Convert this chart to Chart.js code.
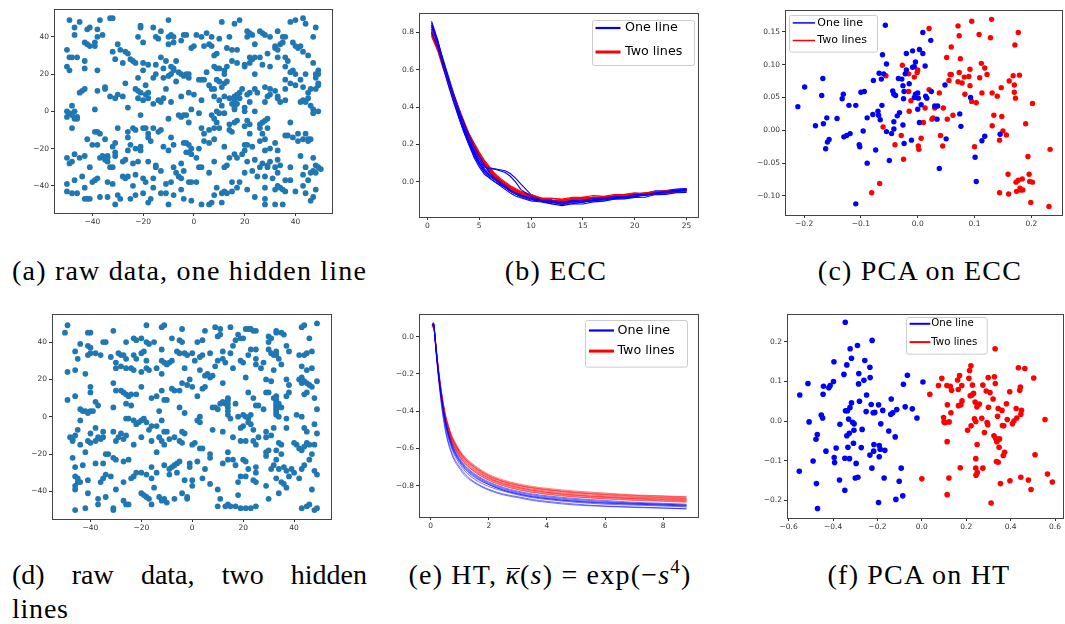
<!DOCTYPE html>
<html>
<head>
<meta charset="utf-8">
<script src="https://cdn.jsdelivr.net/npm/chart.js@4.4.1/dist/chart.umd.min.js"></script>
<style>
  body { margin: 0; background: #fff; width: 1065px; height: 624px; overflow: hidden; position: relative; }
  .panel { position: absolute; }
  .cap { position: absolute; font-family: "Liberation Serif", "Times New Roman", "DejaVu Serif", "Noto Serif", serif;
         font-size: 28px; line-height: 28px; color: #000; white-space: nowrap; }
  .kb { position: relative; display: inline-block; }
  .kb::before { content: ""; position: absolute; left: 2px; right: 0; top: 7px; border-top: 1.5px solid #000; }
  .cap sup { font-size: 19px; line-height: 0; vertical-align: 11px; }
</style>
</head>
<body>
<div class="panel"><canvas id="chart_a"></canvas></div>
<div class="panel"><canvas id="chart_b"></canvas></div>
<div class="panel"><canvas id="chart_c"></canvas></div>
<div class="panel"><canvas id="chart_d"></canvas></div>
<div class="panel"><canvas id="chart_e"></canvas></div>
<div class="panel"><canvas id="chart_f"></canvas></div>

<div class="cap" data-l="12" data-w="355" style="top:257px;"><span>(a) raw data, one hidden line</span></div>
<div class="cap" data-c="556" data-w="107" style="top:257px;"><span>(b) ECC</span></div>
<div class="cap" data-c="920" data-w="218" style="top:257px;"><span>(c) PCA on ECC</span></div>
<div class="cap" data-l="12" data-w="355" data-mode="word" style="top:561px;"><span>(d) raw data, two hidden</span></div>
<div class="cap" data-l="12" data-w="56" style="top:595px;"><span>lines</span></div>
<div class="cap" data-c="550" data-w="318" style="top:561px;"><span>(e) HT, <i class="kb">κ</i>(<i>s</i>) = exp(−<i>s</i><sup>4</sup>)</span></div>
<div class="cap" data-c="919" data-w="197" style="top:561px;"><span>(f) PCA on HT</span></div>

<script>
// ---- data ----
// (a) raw data, one hidden line
var rawOne = [
  [-49,49],[-47,45],[-47,41],[-45,48],[-42,44],[-41,45],[-38,44],[-38,40],[-36,41],[-37,49],[-33,50],[-32,50],
  [-21,45],[-21,46],[-22,40],[-16,45],[-14,39],[-15,40],[-13,43],[-10,49],[-10,40],[-8,40],[-9,41],[-4,41],
  [-3,41],[1,41],[3,40],[5,42],[7,40],[10,39],[11,48],[14,40],[16,47],[18,49],[21,43],[22,42],[21,40],[23,41],
  [26,43],[27,42],[28,41],[30,40],[33,43],[35,40],[38,48],[40,49],[43,50],[44,47],[47,40],[48,45],
  [-50,33],[-49,29],[-48,29],[-46,29],[-43,37],[-42,36],[-41,35],[-39,37],[-39,35],[-32,32],[-30,36],[-29,33],
  [-27,32],[-26,31],[-20,37],[-13,29],[-10,36],[-8,37],[-5,38],[-1,34],[0,35],[4,35],[6,36],[7,35],[8,30],
  [9,31],[13,34],[15,33],[17,33],[22,29],[24,36],[29,31],[32,34],[32,35],[33,33],[34,36],[35,37],[36,40],
  [39,37],[40,35],[41,34],[42,35],[43,32],[45,30],
  [-50,24],[-49,22],[-43,27],[-43,23],[-38,22],[-31,28],[-28,26],[-25,28],[-24,27],[-23,26],[-20,26],[-20,22],
  [-18,25],[-15,25],[-12,23],[-11,27],[-9,24],[-9,20],[-8,23],[-7,27],[-6,21],[-5,20],[-4,19],[-3,20],[-2,18],
  [-2,20],[3,17],[4,17],[5,21],[8,24],[9,23],[10,23],[12,22],[12,20],[13,24],[15,27],[17,26],[20,25],[20,24],
  [22,26],[23,28],[24,29],[26,29],[27,25],[30,24],[33,29],[36,29],[36,24],[37,27],[38,21],[39,22],[42,17],
  [44,20],[47,26],[48,20],[49,20],[49,22],[48,18],[24,20],[-8,22],[-12,18],
  [-45,10],[-44,11],[-43,12],[-38,11],[-35,13],[-35,12],[-27,15],[-22,18],[-23,12],[-22,11],[-21,10],[-19,14],
  [-18,10],[-16,18],[-15,20],[-11,12],[-7,16],[-10,19],[-2,10],[0,9],[2,17],[6,14],[7,12],[8,12],[9,17],
  [10,16],[11,13],[12,15],[13,16],[18,10],[19,12],[21,9],[22,10],[24,12],[25,10],[28,13],[30,12],[32,11],
  [33,8],[36,17],[36,12],[38,15],[40,14],[40,20],[43,13],[45,10],[46,12],[48,12],[49,14],[49,15],
  [-50,0],[-49,-1],[-48,-2],[-48,3],[-47,0],[-46,-3],[-47,-4],[-46,-4],[-39,1],[-33,8],[-31,7],[-30,9],
  [-28,8],[-26,2],[-22,7],[-20,6],[-19,9],[-18,7],[-16,4],[-14,6],[-13,5],[-12,7],[-9,5],[-5,8],[-1,1],
  [3,6],[8,8],[9,0],[10,6],[11,3],[12,8],[14,7],[15,4],[16,8],[16,7],[16,6],[16,5],[16,3],[16,2],[16,1],
  [17,4],[17,9],[18,7],[20,0],[20,2],[22,5],[24,0],[28,5],[29,8],[30,9],[33,7],[34,5],[36,6],[42,5],[43,6],
  [44,5],[45,7],[46,3],[47,1],[47,-1],[49,0],
  [-50,-3],[-48,-9],[-21,-2],[-10,-4],[-5,-3],[-4,-2],[-3,-2],[-2,-6],[2,-1],[3,-9],[4,-12],[6,-10],[7,-2],
  [8,-4],[8,-9],[9,-6],[10,-9],[10,-1],[12,-1],[14,-7],[16,-6],[17,-5],[20,-8],[21,-5],[22,-7],[22,-12],
  [26,-7],[26,-9],[27,-6],[28,-5],[29,-4],[27,-12],[29,-9],[38,-6],[41,-12],
  [-42,-15],[-40,-18],[-39,-11],[-38,-18],[-38,-11],[-37,-12],[-35,-15],[-34,-24],[-32,-19],[-31,-17],
  [-30,-9],[-26,-11],[-26,-14],[-25,-18],[-24,-9],[-23,-10],[-20,-9],[-19,-9],[-18,-12],[-18,-14],[-17,-16],
  [-16,-9],[-14,-11],[-13,-10],[-12,-19],[-9,-14],[-8,-18],[-6,-2],[-4,-17],[-3,-17],[-2,-18],[-1,-20],
  [2,-20],[4,-16],[6,-17],[8,-15],[12,-19],[14,-10],[15,-11],[17,-25],[20,-18],[21,-18],[23,-19],[26,-16],
  [28,-15],[30,-20],[32,-17],[33,-21],[36,-13],[37,-13],[39,-14],[41,-16],[43,-15],[45,-15],[44,-12],
  [45,-16],[46,-15],
  [-50,-25],[-48,-27],[-49,-28],[-47,-23],[-45,-25],[-43,-24],[-41,-30],[-37,-25],[-36,-24],[-35,-26],
  [-34,-25],[-34,-27],[-33,-30],[-32,-30],[-31,-24],[-31,-22],[-28,-27],[-27,-26],[-26,-21],[-24,-28],
  [-23,-20],[-22,-27],[-21,-19],[-21,-21],[-18,-27],[-15,-29],[-15,-30],[-10,-21],[-8,-30],[-5,-28],
  [-4,-32],[-3,-22],[-2,-22],[-1,-23],[1,-25],[2,-30],[8,-27],[13,-29],[14,-25],[16,-23],[19,-23],[20,-21],
  [21,-27],[24,-26],[26,-30],[27,-28],[28,-21],[29,-29],[30,-27],[33,-26],[34,-29],[38,-30],[42,-24],
  [44,-30],[47,-25],[48,-29],[49,-30],[50,-31],[47,-32],[46,-33],
  [-50,-39],[-47,-37],[-46,-44],[-44,-35],[-40,-38],[-39,-37],[-38,-36],[-34,-38],[-32,-39],[-28,-35],
  [-27,-36],[-26,-35],[-24,-40],[-23,-34],[-20,-36],[-19,-38],[-16,-36],[-13,-32],[-11,-39],[-9,-38],
  [-7,-33],[-6,-35],[-5,-36],[-2,-38],[-1,-38],[1,-38],[3,-30],[6,-33],[12,-30],[15,-38],[18,-38],[20,-33],
  [23,-32],[25,-35],[28,-35],[29,-30],[32,-30],[33,-33],[31,-36],[36,-37],[38,-37],[43,-34],[45,-37],[48,-33],
  [-50,-43],[-48,-44],[-43,-41],[-43,-47],[-42,-47],[-41,-47],[-37,-46],[-34,-46],[-31,-50],[-30,-45],
  [-29,-47],[-25,-47],[-23,-45],[-20,-44],[-18,-49],[-17,-47],[-16,-41],[-13,-44],[-11,-44],[-10,-50],
  [-8,-45],[-5,-42],[-4,-47],[-1,-48],[3,-50],[6,-50],[7,-49],[8,-45],[9,-41],[11,-49],[11,-44],[12,-43],
  [13,-44],[15,-43],[17,-41],[21,-42],[24,-46],[28,-47],[28,-50],[28,-41],[32,-50],[32,-42],[33,-40],
  [34,-41],[35,-42],[35,-50],[36,-43],[40,-43],[43,-40],[44,-44],[46,-48],[47,-46],[48,-42]
];

// (d) raw data, two hidden lines
var rawTwo = [
  [-50,45],[-49,49],[-44,39],[-41,45],[-40,45],[-41,38],[-40,37],[-35,40],[-31,46],[-26,40],[-23,42],[-22,41],
  [-20,42],[-18,49],[-18,40],[-17,39],[-15,40],[-12,48],[-11,49],[-8,42],[-5,41],[-4,40],[-4,47],[2,40],
  [4,41],[5,46],[9,48],[10,43],[11,44],[11,47],[15,48],[17,41],[18,44],[19,42],[20,42],[21,47],[22,47],
  [23,47],[24,46],[25,46],[30,43],[31,42],[33,46],[33,45],[35,45],[36,44],[43,48],[44,49],[46,42],[49,50],
  [-46,35],[-45,31],[-41,33],[-40,34],[-38,34],[-36,33],[-34,40],[-32,32],[-30,29],[-29,34],[-28,33],[-27,33],
  [-26,31],[-23,33],[-22,31],[-20,34],[-19,35],[-18,30],[-12,36],[-12,30],[-11,29],[-9,29],[-8,30],[-6,35],
  [-5,34],[-3,34],[-2,33],[0,34],[1,30],[3,32],[4,33],[7,34],[10,30],[12,35],[12,31],[15,34],[16,38],[19,30],
  [22,33],[23,36],[25,31],[25,36],[28,29],[30,36],[30,40],[31,34],[32,33],[33,35],[33,33],[34,31],[37,38],
  [38,35],[42,33],[43,27],[44,33],[45,34],[47,35],
  [-49,24],[-46,25],[-42,23],[-30,26],[-28,27],[-26,26],[-24,26],[-23,25],[-20,24],[-18,26],[-17,25],[-14,26],
  [-12,23],[-10,28],[-3,26],[3,25],[5,22],[6,23],[7,21],[8,22],[9,27],[13,29],[16,26],[20,29],[21,21],[25,28],
  [27,26],[29,20],[31,19],[32,25],[35,28],[37,20],[38,17],[42,20],[43,21],[43,18],[44,19],[45,18],[46,17],
  [47,16],[45,25],[47,26],[49,19],
  [-40,13],[-40,16],[-31,18],[-30,14],[-28,14],[-27,13],[-26,12],[-25,11],[-24,12],[-22,12],[-20,16],[-16,10],
  [-14,11],[-12,14],[-11,9],[-10,9],[-8,15],[-7,14],[-5,14],[-4,18],[-2,17],[-1,20],[0,16],[2,11],[4,15],
  [5,16],[12,18],[14,10],[22,13],[24,10],[29,13],[30,13],[32,10],[33,11],[37,11],[38,13],[44,12],[45,13],[48,10],
  [-49,9],[-46,11],[-44,4],[-43,3],[-42,3],[-41,2],[-40,3],[-39,3],[-38,8],[-37,6],[-31,5],[-26,7],[-24,6],
  [-13,3],[-5,5],[-3,2],[3,0],[8,5],[9,5],[10,4],[11,7],[12,8],[13,7],[14,9],[14,7],[14,5],[14,3],[14,1],
  [15,-1],[17,7],[18,0],[20,1],[21,0],[22,-1],[23,1],[25,6],[26,6],[28,4],[33,9],[33,8],[33,7],[33,6],[33,5],
  [33,4],[33,3],[33,2],[33,1],[34,0],[34,7],[35,5],[37,-1],[41,1],[43,0],[49,4],
  [-45,-7],[-46,-10],[-48,-11],[-47,-12],[-44,-2],[-38,-6],[-35,-8],[-31,-8],[-29,-11],[-26,-1],[-25,-1],
  [-23,-2],[-22,-4],[-21,-3],[-20,-2],[-19,-1],[-18,-3],[-16,-5],[-14,-5],[-12,-2],[-11,-8],[-10,-8],[-4,-8],
  [-3,-9],[2,-2],[3,-3],[8,-7],[19,-6],[20,-5],[22,-3],[23,-4],[24,-7],[29,-8],[32,-6],[37,-6],[44,-6],
  [45,-8],[48,-4],[49,-9],
  [-47,-13],[-44,-15],[-42,-19],[-41,-13],[-40,-9],[-40,-14],[-38,-13],[-37,-11],[-36,-12],[-35,-11],[-34,-20],
  [-30,-13],[-28,-9],[-27,-12],[-26,-10],[-23,-15],[-20,-11],[-17,-7],[-16,-13],[-14,-19],[-13,-11],[-12,-13],
  [-11,-15],[-9,-12],[-7,-11],[-5,-13],[-4,-14],[0,-15],[1,-14],[3,-17],[4,-17],[7,-20],[12,-8],[14,-19],
  [16,-11],[19,-13],[21,-13],[24,-13],[25,-15],[26,-11],[29,-11],[30,-18],[31,-10],[33,-18],[34,-14],[35,-15],
  [35,-20],[40,-14],[41,-15],[42,-17],[43,-18],[44,-16],[45,-14],[46,-15],[47,-20],[48,-15],
  [-47,-22],[-46,-27],[-46,-32],[-45,-33],[-43,-26],[-38,-25],[-35,-25],[-33,-20],[-31,-22],[-30,-23],[-27,-24],
  [-25,-23],[-22,-30],[-16,-27],[-14,-30],[-11,-26],[-9,-28],[-8,-27],[-7,-26],[-6,-25],[-5,-24],[-1,-25],
  [-1,-27],[2,-24],[5,-28],[7,-22],[12,-25],[14,-23],[16,-23],[17,-26],[20,-23],[21,-24],[22,-28],[25,-27],
  [25,-30],[29,-21],[29,-19],[31,-28],[32,-26],[33,-23],[34,-28],[36,-27],[37,-29],[39,-28],[40,-30],[43,-28],
  [44,-26],[46,-23],[48,-29],[49,-31],
  [-46,-37],[-46,-39],[-45,-35],[-44,-35],[-41,-34],[-36,-35],[-35,-33],[-34,-31],[-32,-32],[-30,-39],[-27,-35],
  [-24,-33],[-23,-32],[-20,-30],[-18,-31],[-16,-33],[-15,-38],[-9,-31],[-6,-30],[-3,-34],[0,-37],[0,-34],
  [4,-33],[7,-36],[10,-39],[18,-35],[19,-32],[21,-32],[24,-34],[25,-35],[29,-37],[33,-33],[35,-35],[36,-36],
  [37,-38],[38,-32],[42,-33],[47,-39],
  [-46,-50],[-42,-49],[-41,-41],[-37,-44],[-37,-47],[-34,-43],[-31,-50],[-31,-49],[-27,-45],[-26,-47],[-25,-47],
  [-20,-41],[-19,-42],[-18,-43],[-17,-44],[-16,-47],[-13,-43],[-12,-45],[-11,-44],[-10,-46],[-7,-44],[-4,-41],
  [-2,-43],[-2,-44],[10,-48],[11,-44],[13,-48],[14,-47],[15,-48],[17,-48],[18,-42],[19,-49],[21,-49],[23,-49],
  [25,-48],[30,-44],[34,-41],[43,-49],[45,-48],[46,-47],[48,-50],[49,-49]
];

// (b) ECC curves
var eccS = [0.4, 1, 1.5, 2, 2.5, 3, 3.5, 4, 4.5, 5, 5.5, 6, 6.5, 7, 7.5, 8, 8.5, 9,
            10, 11, 12, 13, 14, 15, 16, 17, 18, 19, 20, 21, 22, 23, 24, 25];
var eccOneLine = [
  [0.86,0.76,0.65,0.55,0.46,0.37,0.29,0.22,0.16,0.11,0.07,0.04,0.02,0.0,-0.02,-0.045,-0.06,-0.072,-0.088,-0.104,-0.108,-0.118,-0.106,-0.109,-0.097,-0.098,-0.086,-0.088,-0.074,-0.073,-0.062,-0.058,-0.048,-0.042],
  [0.84,0.74,0.64,0.55,0.46,0.38,0.30,0.23,0.17,0.12,0.08,0.07,0.068,0.06,0.05,0.03,0.0,-0.04,-0.078,-0.097,-0.098,-0.112,-0.099,-0.103,-0.088,-0.087,-0.079,-0.083,-0.068,-0.067,-0.058,-0.052,-0.044,-0.041],
  [0.8,0.72,0.62,0.52,0.43,0.35,0.27,0.2,0.14,0.09,0.05,0.02,0.0,-0.02,-0.04,-0.06,-0.075,-0.085,-0.102,-0.108,-0.118,-0.127,-0.117,-0.118,-0.107,-0.103,-0.093,-0.092,-0.083,-0.082,-0.068,-0.067,-0.058,-0.056],
  [0.83,0.75,0.65,0.56,0.47,0.39,0.32,0.25,0.19,0.14,0.09,0.05,0.02,-0.005,-0.025,-0.045,-0.06,-0.07,-0.091,-0.098,-0.107,-0.109,-0.107,-0.098,-0.096,-0.088,-0.087,-0.078,-0.077,-0.068,-0.062,-0.053,-0.052,-0.044],
  [0.85,0.75,0.66,0.57,0.48,0.40,0.32,0.25,0.19,0.14,0.1,0.075,0.07,0.065,0.06,0.045,0.02,-0.01,-0.068,-0.092,-0.098,-0.102,-0.093,-0.092,-0.088,-0.087,-0.078,-0.072,-0.063,-0.062,-0.048,-0.047,-0.038,-0.036],
  [0.81,0.72,0.63,0.54,0.45,0.37,0.29,0.22,0.16,0.1,0.06,0.03,0.01,-0.01,-0.03,-0.05,-0.065,-0.08,-0.097,-0.103,-0.117,-0.118,-0.117,-0.108,-0.102,-0.093,-0.092,-0.083,-0.082,-0.068,-0.067,-0.058,-0.052,-0.043],
  [0.84,0.75,0.64,0.54,0.45,0.36,0.28,0.21,0.15,0.1,0.06,0.035,0.015,-0.005,-0.025,-0.04,-0.055,-0.07,-0.083,-0.102,-0.108,-0.122,-0.108,-0.107,-0.098,-0.092,-0.083,-0.082,-0.068,-0.067,-0.053,-0.052,-0.043,-0.037],
  [0.82,0.73,0.63,0.53,0.44,0.35,0.27,0.2,0.13,0.08,0.04,0.02,0.0,-0.015,-0.03,-0.05,-0.065,-0.075,-0.092,-0.098,-0.112,-0.108,-0.102,-0.098,-0.097,-0.088,-0.082,-0.073,-0.072,-0.063,-0.062,-0.048,-0.047,-0.038]
];
var eccTwoLines = [
  [0.8,0.72,0.63,0.54,0.46,0.39,0.32,0.26,0.2,0.15,0.11,0.07,0.04,0.015,-0.005,-0.025,-0.04,-0.055,-0.073,-0.087,-0.088,-0.097,-0.088,-0.087,-0.083,-0.082,-0.073,-0.072,-0.063,-0.062,-0.053,-0.052,-0.043,-0.042],
  [0.79,0.71,0.62,0.53,0.45,0.38,0.31,0.25,0.19,0.14,0.1,0.065,0.035,0.01,-0.01,-0.03,-0.045,-0.06,-0.082,-0.088,-0.102,-0.098,-0.097,-0.088,-0.092,-0.083,-0.082,-0.073,-0.072,-0.063,-0.062,-0.053,-0.052,-0.043],
  [0.81,0.72,0.63,0.55,0.47,0.39,0.32,0.25,0.19,0.14,0.095,0.06,0.03,0.005,-0.015,-0.035,-0.05,-0.065,-0.083,-0.097,-0.098,-0.107,-0.098,-0.097,-0.088,-0.087,-0.078,-0.082,-0.073,-0.072,-0.063,-0.062,-0.053,-0.052],
  [0.78,0.7,0.61,0.53,0.45,0.37,0.3,0.24,0.18,0.13,0.09,0.055,0.025,0.0,-0.02,-0.04,-0.055,-0.065,-0.082,-0.088,-0.097,-0.098,-0.097,-0.088,-0.087,-0.078,-0.077,-0.068,-0.067,-0.058,-0.057,-0.053,-0.052,-0.043],
  [0.8,0.73,0.64,0.55,0.47,0.4,0.33,0.26,0.21,0.16,0.115,0.08,0.045,0.02,0.0,-0.02,-0.035,-0.05,-0.068,-0.087,-0.088,-0.092,-0.083,-0.082,-0.073,-0.077,-0.068,-0.067,-0.058,-0.062,-0.053,-0.052,-0.043,-0.042],
  [0.79,0.71,0.62,0.54,0.46,0.38,0.31,0.24,0.18,0.13,0.085,0.05,0.02,-0.005,-0.025,-0.045,-0.06,-0.07,-0.092,-0.098,-0.107,-0.103,-0.102,-0.093,-0.092,-0.083,-0.087,-0.078,-0.077,-0.068,-0.067,-0.058,-0.057,-0.048],
  [0.8,0.72,0.63,0.54,0.46,0.38,0.31,0.25,0.19,0.14,0.1,0.06,0.03,0.01,-0.01,-0.03,-0.045,-0.055,-0.077,-0.088,-0.097,-0.098,-0.092,-0.083,-0.082,-0.078,-0.077,-0.068,-0.067,-0.058,-0.052,-0.048,-0.047,-0.038],
  [0.82,0.73,0.64,0.55,0.47,0.39,0.32,0.25,0.2,0.15,0.1,0.07,0.04,0.01,-0.01,-0.03,-0.05,-0.06,-0.078,-0.092,-0.098,-0.102,-0.093,-0.092,-0.083,-0.087,-0.078,-0.077,-0.068,-0.067,-0.058,-0.057,-0.048,-0.047]
];

// (c) PCA on ECC
var pcaEccOne = [
  [-0.211,0.036],[-0.199,0.066],[-0.167,0.079],[-0.169,0.053],[-0.166,0.010],[-0.180,0.007],[-0.160,0.019],
  [-0.162,-0.028],[-0.159,-0.018],[-0.156,-0.014],[-0.142,0.018],[-0.133,0.048],[-0.131,0.055],[-0.130,-0.010],
  [-0.125,-0.008],[-0.119,-0.005],[-0.121,0.038],[-0.109,0.038],[-0.109,-0.112],[-0.103,-0.022],[-0.102,-0.025],
  [-0.100,0.058],[-0.094,0.059],[-0.096,-0.001],[-0.089,0.019],[-0.089,-0.050],[-0.079,0.024],[-0.078,0.076],
  [-0.074,-0.030],[-0.070,0.029],[-0.069,0.023],[-0.066,0.016],[-0.068,0.087],[-0.064,0.078],[-0.062,0.115],
  [-0.063,0.038],[-0.060,0.086],[-0.055,0.101],[-0.057,0.160],[-0.055,-0.002],[-0.050,-0.046],[-0.046,-0.005],
  [-0.044,0.060],[-0.042,0.055],[-0.042,0.013],[-0.042,0.002],[-0.039,0.053],[-0.036,0.022],[-0.034,0.079],
  [-0.032,0.027],[-0.028,0.078],[-0.026,0.068],[-0.026,0.008],[-0.025,0.048],[-0.024,-0.020],[-0.024,0.059],
  [-0.022,0.086],[-0.020,0.092],[-0.020,0.117],[-0.015,0.071],[-0.011,-0.015],[-0.009,0.096],[-0.009,0.121],
  [-0.006,0.097],[-0.004,0.104],[-0.006,0.050],[-0.004,0.055],[0.000,0.057],[0.001,0.049],[0.000,0.032],
  [0.003,0.123],[0.003,0.012],[0.006,0.039],[0.009,0.117],[0.009,0.149],[0.013,0.098],[0.014,0.052],
  [0.016,0.049],[0.023,0.137],[0.024,0.059],[0.030,0.037],[0.035,0.037],[0.034,0.017],[0.038,-0.058],
  [0.048,0.069],[0.050,-0.013],[0.074,0.025],[0.076,0.006],[0.093,0.050],[0.101,-0.041],[0.103,-0.078],
  [0.113,-0.016],[0.118,-0.009],[0.145,-0.006]
];
var pcaEccTwo = [
  [-0.056,0.083],[-0.061,0.005],[-0.067,-0.081],[-0.081,-0.095],[-0.040,-0.022],[-0.027,0.099],[-0.029,-0.008],
  [-0.025,-0.044],[-0.016,0.086],[-0.016,0.059],[-0.015,0.029],[-0.012,0.045],[-0.006,0.081],[-0.001,0.088],
  [0.000,0.092],[0.001,-0.024],[0.002,-0.029],[0.006,-0.012],[0.010,0.012],[0.013,0.034],[0.020,0.155],
  [0.020,0.062],[0.025,0.017],[0.027,0.019],[0.030,0.034],[0.038,0.057],[0.040,-0.008],[0.044,-0.024],
  [0.045,0.034],[0.051,0.111],[0.052,0.017],[0.055,0.076],[0.057,0.085],[0.059,0.127],[0.059,0.085],
  [0.062,0.023],[0.071,0.159],[0.071,0.074],[0.073,0.144],[0.073,0.088],[0.075,0.109],[0.078,0.072],
  [0.083,0.055],[0.082,0.081],[0.090,0.082],[0.092,0.093],[0.092,0.068],[0.095,0.166],[0.095,0.044],
  [0.100,-0.025],[0.103,0.042],[0.109,0.080],[0.108,0.146],[0.112,0.102],[0.113,0.057],[0.118,0.095],
  [0.122,0.085],[0.128,0.141],[0.130,0.169],[0.131,0.057],[0.131,0.007],[0.134,0.023],[0.140,0.052],
  [0.144,-0.095],[0.144,-0.015],[0.147,0.065],[0.148,0.021],[0.150,-0.001],[0.156,-0.007],[0.159,-0.067],
  [0.160,-0.097],[0.161,0.075],[0.168,0.083],[0.170,0.069],[0.170,0.058],[0.171,0.130],[0.172,0.049],
  [0.173,-0.079],[0.174,-0.093],[0.177,0.149],[0.179,0.084],[0.177,-0.076],[0.180,-0.088],[0.181,-0.091],
  [0.184,-0.074],[0.185,-0.091],[0.190,0.010],[0.194,-0.040],[0.196,-0.067],[0.197,-0.078],[0.199,-0.110],
  [0.202,0.041],[0.202,-0.079],[0.233,-0.029],[0.231,-0.116]
];

// (e) HT curves, kappa(s) = exp(-s^4)
var htS = [0.05, 0.1, 0.15, 0.2, 0.3, 0.4, 0.5, 0.6, 0.7, 0.8, 1.0, 1.2, 1.5, 2, 2.5, 3, 3.5, 4, 5, 6, 7, 8, 8.8];
var htOneLine = [
  [0.06,0.07,0.0,-0.1,-0.26,-0.39,-0.49,-0.56,-0.61,-0.65,-0.70,-0.74,-0.78,-0.82,-0.845,-0.86,-0.875,-0.885,-0.9,-0.91,-0.915,-0.92,-0.925],
  [0.065,0.07,0.0,-0.09,-0.24,-0.36,-0.45,-0.52,-0.57,-0.61,-0.665,-0.705,-0.745,-0.79,-0.82,-0.84,-0.855,-0.865,-0.88,-0.89,-0.895,-0.9,-0.905],
  [0.06,0.065,-0.01,-0.1,-0.25,-0.37,-0.47,-0.54,-0.59,-0.63,-0.685,-0.725,-0.765,-0.805,-0.83,-0.85,-0.865,-0.875,-0.89,-0.9,-0.905,-0.91,-0.915],
  [0.07,0.075,0.01,-0.08,-0.23,-0.35,-0.44,-0.51,-0.56,-0.6,-0.655,-0.695,-0.735,-0.78,-0.81,-0.83,-0.845,-0.855,-0.87,-0.88,-0.89,-0.895,-0.9],
  [0.06,0.07,-0.005,-0.095,-0.245,-0.365,-0.46,-0.53,-0.58,-0.62,-0.675,-0.715,-0.755,-0.795,-0.825,-0.845,-0.86,-0.87,-0.885,-0.895,-0.9,-0.905,-0.91],
  [0.065,0.075,0.005,-0.085,-0.235,-0.355,-0.45,-0.515,-0.565,-0.605,-0.66,-0.7,-0.74,-0.785,-0.815,-0.835,-0.85,-0.86,-0.875,-0.885,-0.895,-0.9,-0.905],
  [0.06,0.065,-0.015,-0.11,-0.27,-0.4,-0.5,-0.57,-0.62,-0.66,-0.71,-0.75,-0.785,-0.825,-0.85,-0.865,-0.88,-0.89,-0.905,-0.912,-0.918,-0.922,-0.925],
  [0.065,0.07,0.0,-0.09,-0.24,-0.36,-0.45,-0.52,-0.575,-0.615,-0.67,-0.71,-0.75,-0.795,-0.825,-0.845,-0.86,-0.87,-0.885,-0.893,-0.9,-0.905,-0.91]
];
var htTwoLines = [
  [0.055,0.06,-0.005,-0.08,-0.22,-0.33,-0.42,-0.48,-0.53,-0.565,-0.62,-0.66,-0.70,-0.75,-0.78,-0.80,-0.815,-0.825,-0.84,-0.85,-0.86,-0.865,-0.87],
  [0.05,0.06,0.0,-0.075,-0.21,-0.32,-0.41,-0.47,-0.52,-0.555,-0.61,-0.65,-0.69,-0.74,-0.77,-0.79,-0.805,-0.815,-0.83,-0.84,-0.85,-0.855,-0.86],
  [0.06,0.065,0.0,-0.085,-0.225,-0.34,-0.43,-0.49,-0.54,-0.575,-0.63,-0.67,-0.71,-0.76,-0.79,-0.81,-0.825,-0.835,-0.85,-0.86,-0.868,-0.872,-0.876],
  [0.055,0.06,-0.005,-0.085,-0.23,-0.345,-0.435,-0.5,-0.55,-0.585,-0.64,-0.68,-0.72,-0.765,-0.795,-0.815,-0.83,-0.84,-0.855,-0.865,-0.872,-0.878,-0.882],
  [0.05,0.055,-0.01,-0.09,-0.235,-0.35,-0.44,-0.505,-0.555,-0.59,-0.645,-0.685,-0.725,-0.77,-0.8,-0.82,-0.835,-0.845,-0.86,-0.87,-0.877,-0.882,-0.886],
  [0.06,0.065,0.005,-0.075,-0.215,-0.325,-0.415,-0.475,-0.525,-0.56,-0.615,-0.655,-0.695,-0.745,-0.775,-0.795,-0.81,-0.82,-0.835,-0.845,-0.853,-0.858,-0.862],
  [0.055,0.06,0.0,-0.08,-0.22,-0.335,-0.425,-0.485,-0.535,-0.57,-0.625,-0.665,-0.705,-0.755,-0.785,-0.805,-0.82,-0.83,-0.845,-0.856,-0.864,-0.868,-0.872],
  [0.05,0.06,-0.005,-0.085,-0.225,-0.34,-0.43,-0.495,-0.545,-0.58,-0.635,-0.675,-0.715,-0.76,-0.79,-0.81,-0.825,-0.837,-0.852,-0.862,-0.87,-0.875,-0.88],
  [0.06,0.065,0.0,-0.08,-0.22,-0.33,-0.42,-0.48,-0.53,-0.565,-0.62,-0.66,-0.70,-0.748,-0.778,-0.798,-0.812,-0.822,-0.838,-0.848,-0.856,-0.862,-0.866],
  [0.055,0.06,-0.005,-0.09,-0.23,-0.345,-0.44,-0.5,-0.55,-0.59,-0.645,-0.685,-0.725,-0.772,-0.802,-0.822,-0.837,-0.848,-0.862,-0.872,-0.88,-0.885,-0.89]
];

// (f) PCA on HT
var pcaHtOne = [
  [-0.550,0.066],[-0.552,-0.127],[-0.513,0.095],[-0.508,-0.002],[-0.490,-0.101],[-0.477,-0.046],[-0.471,-0.034],
  [-0.475,-0.158],[-0.470,-0.221],[-0.453,0.015],[-0.447,0.008],[-0.445,0.068],[-0.443,0.088],[-0.432,-0.076],
  [-0.419,0.084],[-0.413,0.090],[-0.398,0.100],[-0.396,0.150],[-0.395,-0.092],[-0.393,-0.105],[-0.386,-0.068],
  [-0.371,-0.149],[-0.369,-0.008],[-0.351,0.118],[-0.347,-0.175],[-0.347,-0.094],[-0.345,0.250],[-0.344,0.026],
  [-0.338,0.142],[-0.338,-0.037],[-0.335,0.026],[-0.333,-0.066],[-0.330,0.005],[-0.327,-0.031],[-0.326,-0.095],
  [-0.324,0.034],[-0.323,0.183],[-0.317,0.159],[-0.317,0.046],[-0.312,-0.003],[-0.308,-0.056],[-0.306,-0.023],
  [-0.305,-0.007],[-0.300,-0.144],[-0.296,-0.107],[-0.290,0.191],[-0.288,-0.142],[-0.285,0.094],[-0.284,0.120],
  [-0.281,0.050],[-0.273,-0.067],[-0.269,-0.021],[-0.261,0.103],[-0.257,0.153],[-0.251,0.024],[-0.249,0.066],
  [-0.234,0.136],[-0.233,0.110],[-0.234,-0.086],[-0.228,0.042],[-0.224,0.204],[-0.225,-0.119],[-0.219,0.021],
  [-0.217,-0.076],[-0.216,-0.059],[-0.212,0.022],[-0.195,0.041],[-0.192,-0.062],[-0.192,-0.090],[-0.188,-0.071],
  [-0.195,-0.206],[-0.185,-0.007],[-0.176,0.027],[-0.170,-0.144],[-0.167,-0.074],[-0.149,-0.025],[-0.138,0.056],
  [-0.140,0.017],[-0.131,0.021],[-0.120,-0.040],[-0.117,-0.198],[-0.113,0.029],[-0.102,-0.152],[-0.093,-0.119],
  [-0.086,-0.189],[-0.083,0.093],[-0.075,0.036],[-0.065,0.116],[-0.043,0.031],[-0.022,0.008],[0.005,0.099]
];
var pcaHtTwo = [
  [0.000,-0.146],[0.036,0.068],[0.075,0.090],[0.090,0.108],[0.098,0.009],[0.100,-0.002],[0.105,-0.004],
  [0.113,0.090],[0.115,0.041],[0.114,-0.052],[0.114,-0.186],[0.122,-0.144],[0.123,-0.002],[0.128,0.088],
  [0.131,0.021],[0.134,0.078],[0.161,0.104],[0.164,0.080],[0.165,0.039],[0.170,0.115],[0.173,-0.118],
  [0.176,0.041],[0.181,0.051],[0.180,0.090],[0.206,-0.023],[0.212,0.108],[0.215,0.128],[0.218,0.064],
  [0.221,0.140],[0.222,-0.012],[0.225,0.066],[0.228,0.091],[0.233,0.070],[0.237,0.006],[0.240,0.048],
  [0.243,-0.001],[0.243,-0.095],[0.243,-0.119],[0.244,-0.137],[0.248,0.036],[0.249,-0.059],[0.250,-0.130],
  [0.259,0.043],[0.270,0.007],[0.275,0.091],[0.275,-0.119],[0.282,-0.029],[0.290,0.076],[0.294,-0.004],
  [0.297,-0.009],[0.299,0.110],[0.300,0.035],[0.307,0.072],[0.312,-0.207],[0.321,0.056],[0.325,-0.037],
  [0.327,0.112],[0.330,0.183],[0.331,0.095],[0.333,-0.044],[0.336,-0.102],[0.338,-0.052],[0.341,0.012],
  [0.344,0.032],[0.344,-0.104],[0.350,-0.045],[0.348,-0.066],[0.354,-0.158],[0.361,0.027],[0.363,-0.011],
  [0.367,-0.087],[0.369,-0.012],[0.373,-0.079],[0.381,0.044],[0.385,0.004],[0.396,0.074],[0.397,-0.151],
  [0.408,-0.007],[0.415,0.000],[0.425,0.032],[0.428,0.008],[0.435,0.135],[0.441,0.078],[0.444,0.086],
  [0.446,0.017],[0.449,0.027],[0.446,-0.142],[0.464,0.133],[0.480,-0.149],[0.492,-0.173],[0.504,0.109],
  [0.510,-0.085],[0.555,0.004],[0.566,-0.134],[0.588,-0.154]
];

// tick values
var ticksRaw = [-40, -20, 0, 20, 40];
var ticksEccX = [0, 5, 10, 15, 20, 25];
var ticksEccY = [0.0, 0.2, 0.4, 0.6, 0.8];
var ticksPcaEccX = [-0.2, -0.1, 0.0, 0.1, 0.2];
var ticksPcaEccY = [-0.10, -0.05, 0.00, 0.05, 0.10, 0.15];
var ticksHtX = [0, 2, 4, 6, 8];
var ticksHtY = [-0.8, -0.6, -0.4, -0.2, 0.0];
var ticksPcaHtX = [-0.6, -0.4, -0.2, 0.0, 0.2, 0.4, 0.6];
var ticksPcaHtY = [-0.2, -0.1, 0.0, 0.1, 0.2];

// ---- captions: adjust spacing a little so each caption lands where it sits in the figure ----
document.querySelectorAll(".cap").forEach(function (el) {
  var span = el.firstElementChild;
  var text = span.textContent;
  var w = span.getBoundingClientRect().width;
  var target = +el.dataset.w;
  if (el.dataset.mode === "word") {
    var gaps = text.split(" ").length - 1;
    span.style.wordSpacing = ((target - w) / gaps) + "px";
  } else {
    var ls = (target - w) / Math.max(text.length - 1, 1);
    span.style.letterSpacing = Math.max(-0.8, Math.min(1.2, ls)) + "px";
  }
  var w2 = span.getBoundingClientRect().width;
  var left = el.dataset.l !== undefined ? +el.dataset.l : +el.dataset.c - w2 / 2;
  el.style.left = left + "px";
});

// ---- drawing ----
var YW = 40, XH = 22, PT = 4, PR = 6;
var BLUE = "#0000ff", RED = "#ff0000", MPL = "#1f77b4";

function fmt(v, d) {
  return Number(v).toFixed(d).replace("-", "\u2212");
}

function axis(min, max, ticks, dec) {
  return {
    type: "linear",
    min: min,
    max: max,
    afterBuildTicks: function (s) { s.ticks = ticks.map(function (v) { return { value: v }; }); },
    afterFit: function (s) { if (s.isHorizontal()) s.height = XH; else s.width = YW; },
    grid: { display: true, drawOnChartArea: false, drawTicks: true, tickLength: 3, color: "#333", lineWidth: 1 },
    border: { display: false },
    ticks: {
      padding: 2, color: "#333", autoSkip: false, maxRotation: 0,
      font: { family: "DejaVu Sans", size: 7.5 },
      callback: function (v) { return fmt(v, dec); },
    },
  };
}

// box around the plot area, like the matplotlib spines
var frame = {
  id: "frame",
  afterDraw: function (chart) {
    var a = chart.chartArea, c = chart.ctx;
    c.save();
    c.strokeStyle = "#444";
    c.lineWidth = 1;
    c.strokeRect(Math.round(a.left) + 0.5, Math.round(a.top) + 0.5,
                 Math.round(a.right - a.left) - 1, Math.round(a.bottom - a.top) - 1);
    c.restore();
  },
};

// legend drawn inside the plot area
var boxLegend = {
  id: "boxLegend",
  afterDraw: function (chart, args, o) {
    if (!o || !o.items) return;
    var a = chart.chartArea, c = chart.ctx;
    var x = a.left + o.x, y = a.top + o.y;
    c.save();
    c.fillStyle = "rgba(255,255,255,0.85)";
    c.strokeStyle = "#cccccc";
    c.lineWidth = 1;
    c.beginPath();
    c.roundRect(Math.round(x) + 0.5, Math.round(y) + 0.5, o.w, o.h, 2);
    c.fill();
    c.stroke();
    c.font = o.size + 'px "DejaVu Sans"';
    c.textBaseline = "middle";
    o.items.forEach(function (it, i) {
      var ly = y + o.rows[i];
      c.strokeStyle = it.color;
      c.lineWidth = it.lw;
      c.beginPath();
      c.moveTo(x + o.line[0], ly);
      c.lineTo(x + o.line[1], ly);
      c.stroke();
      c.fillStyle = "#000";
      c.fillText(it.text, x + o.tx, ly);
    });
    c.restore();
  },
};

function pts(pairs) {
  return pairs.map(function (p) { return { x: p[0], y: p[1] }; });
}

function curve(xs, ys, color, width, smooth) {
  return {
    data: xs.map(function (x, i) { return { x: x, y: ys[i] }; }),
    showLine: true, borderColor: color, borderWidth: width, pointRadius: 0,
    fill: false, cubicInterpolationMode: smooth ? "monotone" : "default", tension: 0,
  };
}

function dots(pairs, color, r) {
  return { data: pts(pairs), backgroundColor: color, borderWidth: 0, pointRadius: r, pointHoverRadius: r };
}

function makeChart(id, box, datasets, xAxis, yAxis, legend) {
  var cv = document.getElementById(id);
  cv.width = YW + (box[2] - box[0]) + PR;
  cv.height = PT + (box[3] - box[1]) + XH;
  cv.parentNode.style.left = (box[0] - YW) + "px";
  cv.parentNode.style.top = (box[1] - PT) + "px";
  return new Chart(cv.getContext("2d"), {
    type: "scatter",
    data: { datasets: datasets },
    options: {
      responsive: false,
      animation: false,
      devicePixelRatio: 1,
      layout: { padding: { left: 0, top: PT, right: PR, bottom: 0 } },
      scales: { x: xAxis, y: yAxis },
      plugins: { legend: { display: false }, tooltip: { enabled: false }, boxLegend: legend || {} },
    },
    plugins: [frame, boxLegend],
  });
}

var legendItems = function (lw1, lw2) {
  return [{ text: "One line", color: BLUE, lw: lw1 }, { text: "Two lines", color: RED, lw: lw2 }];
};

// (a)
makeChart("chart_a", [54, 6, 333, 213], [dots(rawOne, MPL, 2.9)],
  axis(-55.1, 54.8, ticksRaw, 0), axis(-54.6, 55.2, ticksRaw, 0));

// (b)
var eccSets = [];
eccOneLine.slice(0, 4).forEach(function (ys) { eccSets.push(curve(eccS, ys, BLUE, 1.1, false)); });
eccTwoLines.forEach(function (ys) { eccSets.push(curve(eccS, ys, RED, 1.1, false)); });
eccOneLine.slice(4).forEach(function (ys) { eccSets.push(curve(eccS, ys, BLUE, 1.1, false)); });
makeChart("chart_b", [419, 10, 699, 217], eccSets,
  axis(-0.81, 26.2, ticksEccX, 0), axis(-0.188, 0.907, ticksEccY, 1),
  { x: 173, y: 7, w: 102, h: 45, size: 12.7, rows: [8.5, 32.5], line: [3.5, 28.5], tx: 33, items: legendItems(2.2, 3) });

// (c)
makeChart("chart_c", [785, 7, 1063, 215], [dots(pcaEccOne, BLUE, 2.7), dots(pcaEccTwo, RED, 2.7)],
  axis(-0.2336, 0.2557, ticksPcaEccX, 1), axis(-0.129, 0.184, ticksPcaEccY, 2),
  { x: 4.3, y: 5.4, w: 88, h: 36.6, size: 11, rows: [8, 25.6], line: [3.4, 25.7], tx: 28, items: legendItems(1.5, 1.5) });

// (d)
makeChart("chart_d", [52, 311, 332, 519], [dots(rawTwo, MPL, 2.9)],
  axis(-55.1, 54.9, ticksRaw, 0), axis(-54.8, 55.3, ticksRaw, 0));

// (e)
var htSets = [];
htOneLine.forEach(function (ys) { htSets.push(curve(htS, ys, "rgba(0,0,255,0.55)", 1, true)); });
htTwoLines.forEach(function (ys) { htSets.push(curve(htS, ys, "rgba(255,0,0,0.5)", 1, true)); });
makeChart("chart_e", [419, 311, 699, 517], htSets,
  axis(-0.40, 9.23, ticksHtX, 0), axis(-0.969, 0.125, ticksHtY, 1),
  { x: 166.4, y: 6, w: 102, h: 46.6, size: 12.7, rows: [11, 31.6], line: [3.6, 28.6], tx: 32, items: legendItems(2.2, 3) });

// (f)
makeChart("chart_f", [787, 311, 1064, 518], [dots(pcaHtOne, BLUE, 2.8), dots(pcaHtTwo, RED, 2.8)],
  axis(-0.6075, 0.6405, ticksPcaHtX, 1), axis(-0.245, 0.272, ticksPcaHtY, 1),
  { x: 119.3, y: 3.6, w: 80.7, h: 36.7, size: 10.2, rows: [6.7, 25], line: [3.3, 24], tx: 25, items: legendItems(2, 2) });
</script>
</body>
</html>
